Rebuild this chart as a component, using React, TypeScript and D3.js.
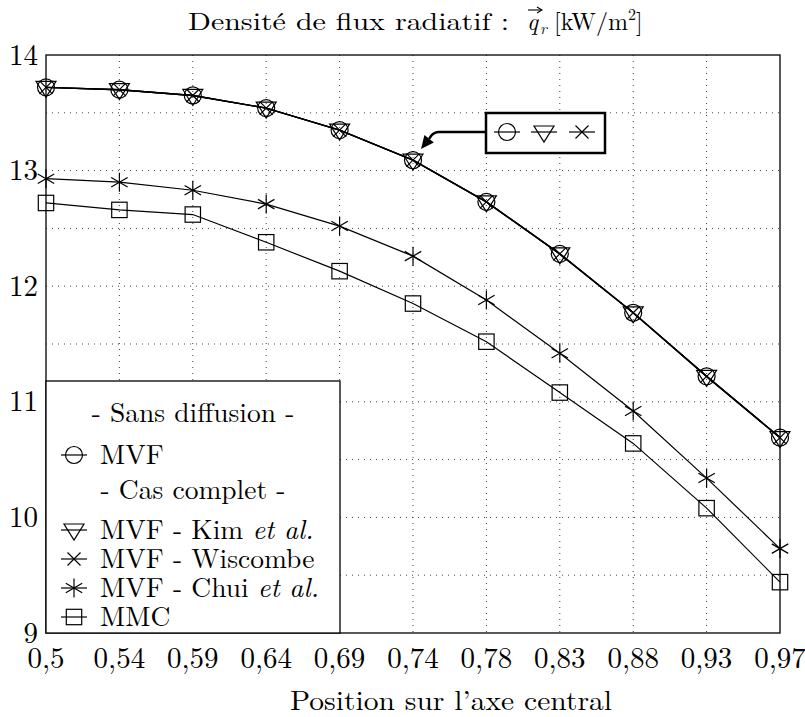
import React from "react";
import * as d3 from "d3";

const categories = ["0,5", "0,54", "0,59", "0,64", "0,69", "0,74", "0,78", "0,83", "0,88", "0,93", "0,97"];
const mvfSansDiffusion = [13.72, 13.7, 13.65, 13.54, 13.35, 13.09, 12.73, 12.28, 11.77, 11.22, 10.69];
const mvfKim = [13.72, 13.7, 13.65, 13.54, 13.35, 13.09, 12.73, 12.28, 11.77, 11.22, 10.69];
const mvfWiscombe = [13.72, 13.7, 13.65, 13.54, 13.35, 13.09, 12.73, 12.28, 11.77, 11.22, 10.69];
const mvfChui = [12.93, 12.9, 12.83, 12.71, 12.52, 12.26, 11.88, 11.42, 10.92, 10.34, 9.73];
const mmc = [12.72, 12.66, 12.62, 12.38, 12.13, 11.85, 11.52, 11.08, 10.64, 10.08, 9.44];
const yTicks = [9, 10, 11, 12, 13, 14];
const yGrid = [9.5, 10, 10.5, 11, 11.5, 12, 12.5, 13, 13.5];

const FONT =
  '"Latin Modern Roman", "CMU Serif", "Liberation Serif", "DejaVu Serif", "Noto Serif", Tinos, "Nimbus Roman", "Nimbus Roman No9 L", FreeSerif, "Times New Roman", Times, Georgia, serif';
const W = 805, H = 717;
const L = 46, R = 780, T = 55, B = 633;

type MarkerKind = "circle" | "triangle" | "cross" | "asterisk" | "square";

function Marker({ kind, x, y, s = 1 }: { kind: MarkerKind; x: number; y: number; s?: number }) {
  const p = { fill: "none", stroke: "#000", strokeWidth: 1.2 };
  if (kind === "circle") return <circle cx={x} cy={y} r={8.5 * s} {...p} />;
  if (kind === "triangle")
    return <path d={`M${x - 10 * s},${y - 6 * s}L${x + 10 * s},${y - 6 * s}L${x},${y + 10 * s}Z`} {...p} />;
  if (kind === "cross") {
    const a = 6.5 * s;
    return <path d={`M${x - a},${y - a}L${x + a},${y + a}M${x - a},${y + a}L${x + a},${y - a}`} {...p} />;
  }
  if (kind === "asterisk") {
    const r = 9.5 * s, cx = r * Math.cos(Math.PI / 6), cy = r * Math.sin(Math.PI / 6);
    return (
      <path
        d={`M${x},${y - r}L${x},${y + r}M${x - cx},${y - cy}L${x + cx},${y + cy}M${x - cx},${y + cy}L${x + cx},${y - cy}`}
        {...p}
      />
    );
  }
  const h = 7.7 * s;
  return <rect x={x - h} y={y - h} width={2 * h} height={2 * h} {...p} />;
}

export default function App() {
  const x = d3.scalePoint<string>().domain(categories).range([L, R]).padding(0);
  const y = d3.scaleLinear().domain([9, 14]).range([B, T]);
  const line = d3
    .line<number>()
    .x((_, i) => x(categories[i]) as number)
    .y((d) => y(d));

  const series: { data: number[]; kind: MarkerKind; w: number }[] = [
    { data: mmc, kind: "square", w: 1.2 },
    { data: mvfChui, kind: "asterisk", w: 1.2 },
    { data: mvfWiscombe, kind: "cross", w: 1.4 },
    { data: mvfKim, kind: "triangle", w: 1.4 },
    { data: mvfSansDiffusion, kind: "circle", w: 1.4 },
  ];

  const legendItems: { text: React.ReactNode; kind?: MarkerKind; y: number }[] = [
    { text: "- Sans diffusion -", y: 413 },
    { text: "MVF", kind: "circle", y: 455 },
    { text: "- Cas complet -", y: 490 },
    { text: <>MVF - Kim <tspan fontStyle="italic">et al.</tspan></>, kind: "triangle", y: 530 },
    { text: "MVF - Wiscombe", kind: "cross", y: 559 },
    { text: <>MVF - Chui <tspan fontStyle="italic">et al.</tspan></>, kind: "asterisk", y: 588 },
    { text: "MMC", kind: "square", y: 617 },
  ];

  const tip = { x: 421, y: 149 };
  const from = { x: 433, y: 134 };
  const dl = Math.hypot(tip.x - from.x, tip.y - from.y);
  const d = { x: (tip.x - from.x) / dl, y: (tip.y - from.y) / dl };
  const base = { x: tip.x - 13 * d.x, y: tip.y - 13 * d.y };
  const n = { x: -d.y, y: d.x };

  const ts: React.CSSProperties = { fontFamily: FONT };

  return (
    <svg width={W} height={H} style={{ display: "block", position: "absolute", left: 0, top: 0, background: "#fff", fontFamily: FONT }}>
      <rect x={0} y={0} width={W} height={H} fill="#fff" />
      <g stroke="#000" strokeWidth={1} strokeDasharray="1,5" opacity={0.75}>
        {categories.slice(1, -1).map((c) => (
          <line key={c} x1={x(c)} x2={x(c)} y1={T} y2={B} />
        ))}
        {yGrid.map((v) => (
          <line key={v} x1={L} x2={R} y1={y(v)} y2={y(v)} />
        ))}
      </g>
      {series.map((s, si) => (
        <g key={si}>
          <path d={line(s.data) as string} fill="none" stroke="#000" strokeWidth={s.w} />
          {s.data.map((v, i) => (
            <Marker key={i} kind={s.kind} x={x(categories[i]) as number} y={y(v)} />
          ))}
        </g>
      ))}
      <rect x={L} y={T} width={R - L} height={B - T} fill="none" stroke="#000" strokeWidth={1.3} />
      {yTicks.map((t) => (
        <text key={t} x={38} y={y(t) + 9.5} textAnchor="end" fontSize={29} style={ts}>
          {t}
        </text>
      ))}
      {categories.map((c) => (
        <text key={c} x={x(c)} y={668} textAnchor="middle" fontSize={29} style={ts}>
          {c}
        </text>
      ))}
      <text x={290} y={710} fontSize={27} style={ts} textLength={322} lengthAdjust="spacingAndGlyphs">
        Position sur l’axe central
      </text>
      <text x={188} y={30} fontSize={24} style={ts} textLength={321} lengthAdjust="spacingAndGlyphs">
        Densité de flux radiatif :
      </text>
      <text x={527} y={30} fontSize={24} fontStyle="italic" style={ts}>q</text>
      <text x={540} y={34} fontSize={16} fontStyle="italic" style={ts}>r</text>
      <path d="M528,10 L541,10" stroke="#000" strokeWidth={1.1} />
      <path d="M537,7 L542,10 L537,13" fill="none" stroke="#000" strokeWidth={1.1} />
      <text x={554} y={30} fontSize={24} style={ts}>
        [kW/m<tspan fontSize={16} dy={-10}>2</tspan><tspan dy={10}>]</tspan>
      </text>
      <rect x={L} y={381} width={340 - L} height={B - 381} fill="#fff" stroke="#000" strokeWidth={1.3} />
      {legendItems.map((it, i) =>
        it.kind ? (
          <g key={i}>
            <line x1={61} x2={87} y1={it.y} y2={it.y} stroke="#000" strokeWidth={1.2} />
            <Marker kind={it.kind} x={74} y={it.y} />
            <text x={100} y={it.y + 9} fontSize={27.5} style={ts}>
              {it.text}
            </text>
          </g>
        ) : (
          <text key={i} x={193} y={it.y + 9} fontSize={27.5} style={ts} textAnchor="middle">
            {it.text}
          </text>
        )
      )}
      <path
        d={`M486,132 L439,132 Q434,132 431,136 L${base.x},${base.y}`}
        fill="none"
        stroke="#000"
        strokeWidth={2.5}
      />
      <path
        d={`M${tip.x},${tip.y} L${base.x + 6 * n.x},${base.y + 6 * n.y} L${base.x - 6 * n.x},${base.y - 6 * n.y} Z`}
        fill="#000"
      />
      <rect x={486} y={113} width={119} height={40} fill="#fff" stroke="#000" strokeWidth={2.5} />
      {([["circle", 507], ["triangle", 544], ["cross", 582]] as [MarkerKind, number][]).map(([k, cx]) => (
        <g key={k}>
          <line x1={cx - 13} x2={cx + 13} y1={132} y2={132} stroke="#000" strokeWidth={1.2} />
          <Marker kind={k} x={cx} y={132} />
        </g>
      ))}
    </svg>
  );
}
